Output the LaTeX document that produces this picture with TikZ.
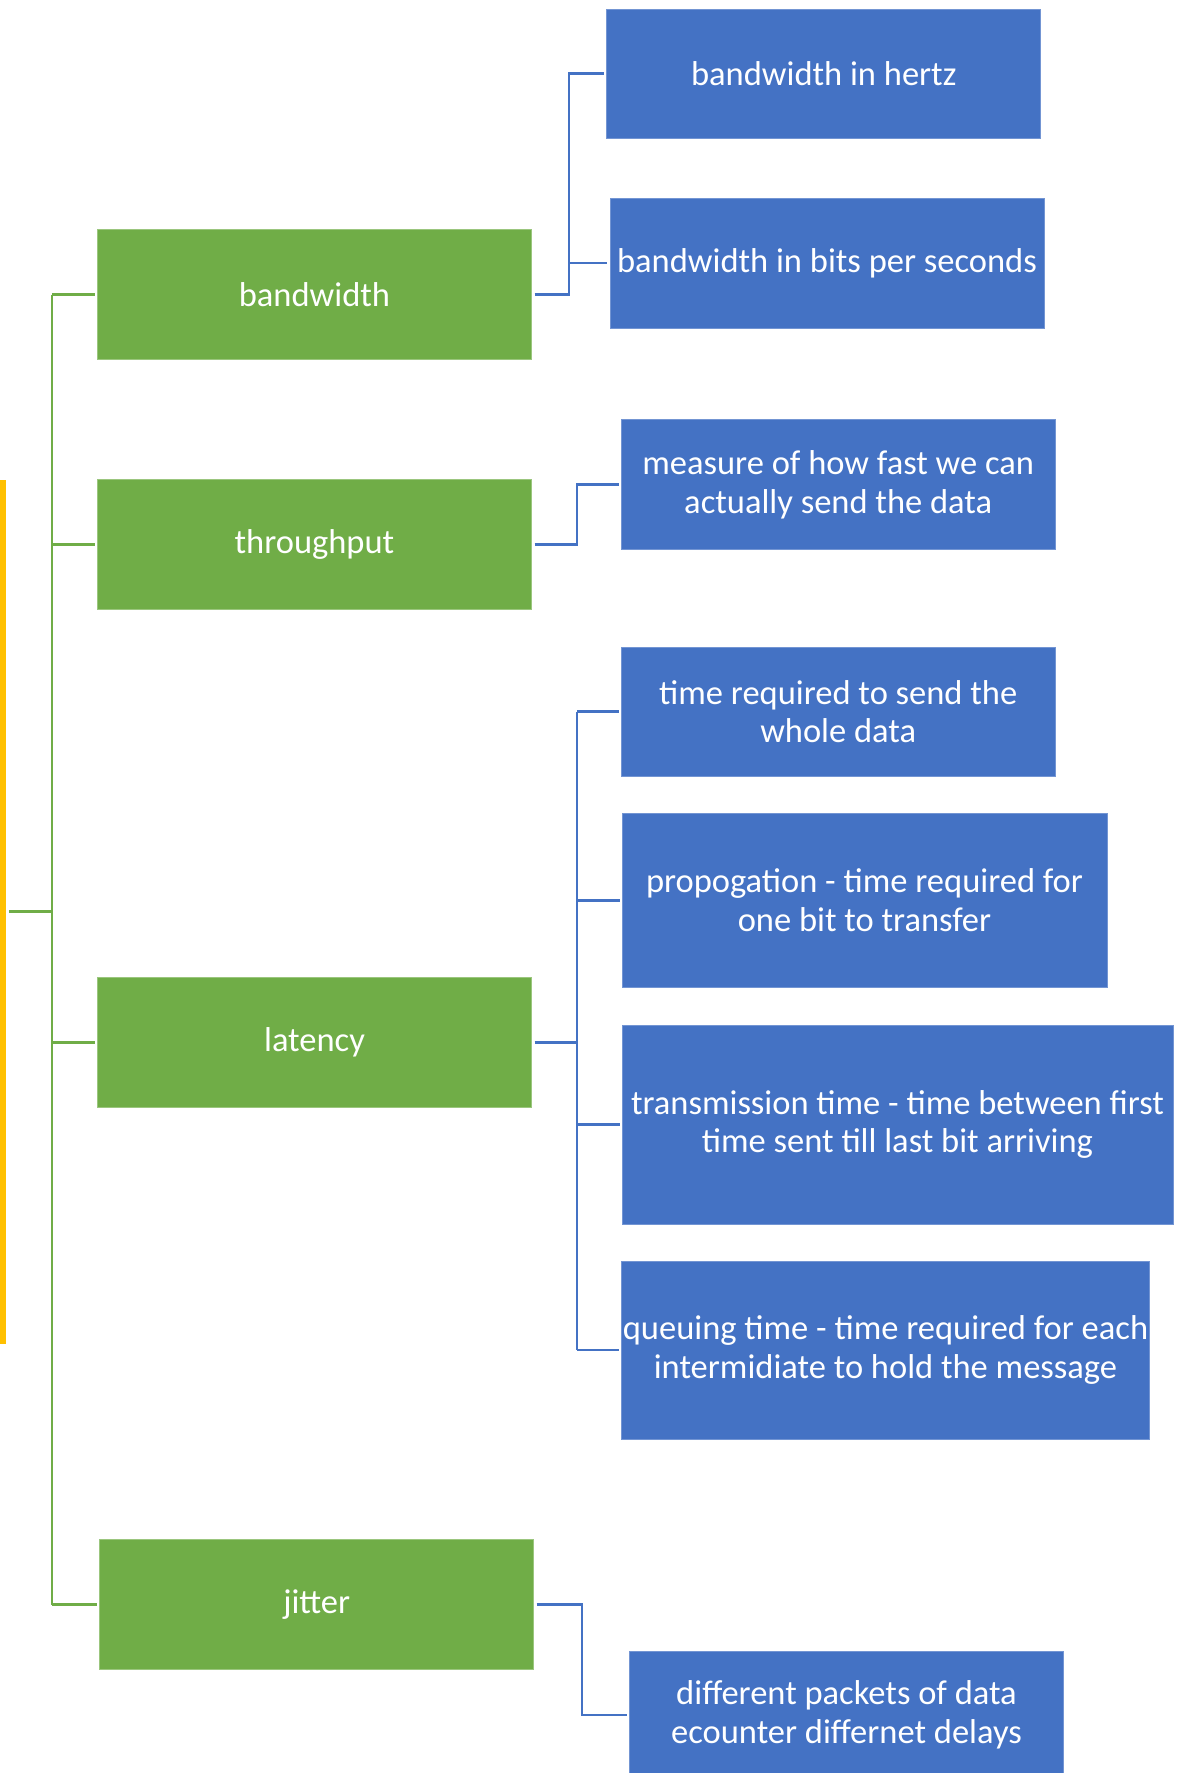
\documentclass[tikz,border=0pt]{standalone}
\usepackage{fontspec}
\setmainfont{Carlito}
\usetikzlibrary{positioning}

\definecolor{leafblue}{HTML}{4472C4}
\definecolor{topgreen}{HTML}{70AD47}
\definecolor{rootgold}{HTML}{FFC000}

\begin{document}
\begin{tikzpicture}[
  x=0.5pt, y=-0.5pt,
  every node/.style={inner sep=0pt, outer sep=0pt, text=white, align=center,
    font=\fontsize{17.25pt}{19.25pt}\selectfont},
  topic/.style={fill=topgreen, draw=topgreen!70!white, line width=0.4pt,
    minimum width=217pt, minimum height=65pt},
  leaf/.style 2 args={fill=leafblue, draw=leafblue!75!white, line width=0.4pt,
    minimum width=#1, minimum height=#2},
  gl/.style={draw=topgreen, line width=1.4pt},
  bl/.style={draw=leafblue, line width=1.4pt},
]
\clip (0,0) rectangle (1181,1773);
\fill[white] (0,0) rectangle (1181,1773);

% root bar on the left edge
\node[fill=rootgold, minimum width=53pt, minimum height=432pt] (root) at (-47,911.8) {};

% first level
\node[topic] (bw)  at (314.5,294.6)  {bandwidth};
\node[topic] (tp)  at (314.5,544.6)  {throughput};
\node[topic] (lat) at (314.5,1042.4) {latency};
\node[topic] (jit) at (316.7,1604.6) {jitter};

% second level
\node[leaf={217pt}{64.5pt}]   (hertz) at (823.8,73.5)  {bandwidth in hertz};
\node[leaf={217pt}{65pt}]     (bits)  at (827,263)     {bandwidth in bits per seconds};
\node[leaf={217pt}{65pt}]     (meas)  at (838.2,484.7) {measure of how fast we can\\actually send the data};
\node[leaf={217pt}{64.5pt}]   (whole) at (838.2,711.5) {time required to send the\\whole data};
\node[leaf={242.5pt}{87.2pt}] (prop)  at (864.5,900.3) {propogation - time required for\\one bit to transfer};
\node[leaf={275.5pt}{99.5pt}] (trans) at (897.5,1124.5) {transmission time - time between first\\time sent till last bit arriving};
\node[leaf={264pt}{89pt}]     (queue) at (885.5,1350)  {queuing time - time required for each\\intermidiate to hold the message};
\node[leaf={217.2pt}{64pt}]   (diff)  at (846.5,1715)  {different packets of data\\ecounter differnet delays};

% spine positions
\coordinate (gsp) at (52,0);
\coordinate (bsp) at (569,0);
\coordinate (tsp) at (577,0);
\coordinate (lsp) at (577,0);
\coordinate (jsp) at (582,0);

% green tree: root to first level
\draw[gl] ([xshift=1.5pt]root.east) -- (gsp |- root.east);
\draw[gl] (gsp |- bw.west) -- (gsp |- jit.west);
\foreach \n in {bw,tp,lat,jit}
  \draw[gl] (gsp |- \n.west) -- ([xshift=-1.2pt]\n.west);

% blue connectors: bandwidth
\draw[bl] ([xshift=1.5pt]bw.east) -| (bsp |- hertz.west) -- ([xshift=-1.5pt]hertz.west);
\draw[bl] (bsp |- bits.west) -- ([xshift=-1.5pt]bits.west);

% throughput
\draw[bl] ([xshift=1.5pt]tp.east) -| (tsp |- meas.west) -- ([xshift=-1.2pt]meas.west);

% latency
\draw[bl] ([xshift=1.5pt]lat.east) -- (lsp |- lat.east);
\draw[bl] (lsp |- whole.west) -- (lsp |- queue.west);
\foreach \n in {whole,prop,trans,queue}
  \draw[bl] (lsp |- \n.west) -- ([xshift=-1.2pt]\n.west);

% jitter
\draw[bl] ([xshift=1.5pt]jit.east) -| (jsp |- diff.west) -- ([xshift=-1pt]diff.west);
\end{tikzpicture}
\end{document}
